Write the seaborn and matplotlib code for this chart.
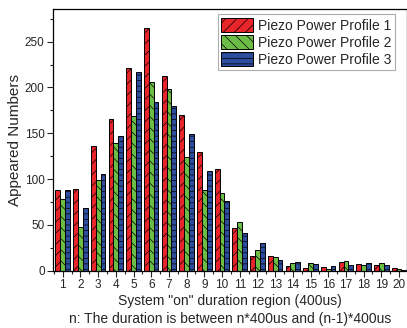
import numpy as np
import pandas as pd
import matplotlib
matplotlib.use("Agg")
import matplotlib.pyplot as plt
from matplotlib.ticker import MultipleLocator, FixedLocator
import seaborn as sns

categories = [str(i) for i in range(1, 21)]
profile1 = [88, 89, 136, 166, 221, 265, 213, 170, 130, 111, 47, 16, 16, 5, 3, 4, 9, 7, 6, 3]
profile2 = [78, 48, 99, 139, 169, 206, 198, 124, 88, 85, 53, 23, 15, 8, 8, 2, 11, 6, 8, 2]
profile3 = [88, 68, 106, 147, 217, 184, 180, 149, 109, 76, 41, 30, 12, 10, 7, 5, 6, 8, 6, 1]
series_names = ["Piezo Power Profile 1", "Piezo Power Profile 2", "Piezo Power Profile 3"]
colors = ["#E8252B", "#6CBD45", "#2D4D9E"]
hatches = ["///", "\\\\\\", "---"]

df = pd.DataFrame({
    "region": categories * 3,
    "value": profile1 + profile2 + profile3,
    "series": [series_names[0]] * 20 + [series_names[1]] * 20 + [series_names[2]] * 20,
})

sns.set_theme(style="ticks")
plt.rcParams['font.family'] = ['Liberation Sans', 'DejaVu Sans']
plt.rcParams['hatch.linewidth'] = 0.5

fig = plt.figure(figsize=(4.07, 3.28), dpi=100)
ax = fig.add_axes([53/407, 1 - 270.7/328, 354/407, (270.7 - 8.7)/328])

sns.barplot(data=df, x="region", y="value", hue="series", hue_order=series_names,
            order=categories, palette=colors, width=0.82, ax=ax,
            edgecolor="black", linewidth=0.7, saturation=1, legend=True)

for container, h in zip(ax.containers, hatches):
    for p in container:
        p.set_hatch(h)

ax.set_xlim(-0.55, 19.45)
ax.set_ylim(0, 286)
ax.yaxis.set_major_locator(MultipleLocator(50))
ax.yaxis.set_minor_locator(MultipleLocator(25))
ax.xaxis.set_minor_locator(FixedLocator(np.arange(-0.5, 20, 1)))
ax.tick_params(axis="both", which="major", direction="out", length=4, width=0.8, labelsize=8.5, pad=2)
ax.tick_params(axis="both", which="minor", direction="out", length=2, width=0.8)
for s in ax.spines.values():
    s.set_linewidth(0.9)
    s.set_color("black")

ax.set_ylabel("Appeared Numbers", fontsize=11, labelpad=2)
ax.set_xlabel('System "on" duration region (400us)\nn: The duration is between n*400us and (n-1)*400us',
              fontsize=10, linespacing=1.35, labelpad=2)

leg = ax.legend(loc="upper right", bbox_to_anchor=(0.966, 0.978), fontsize=10, frameon=True,
                fancybox=False, edgecolor="#999999", handlelength=2.3, handleheight=1.2,
                handletextpad=0.35, borderpad=0.25, labelspacing=0.15, borderaxespad=0)
leg.get_frame().set_linewidth(0.8)
for hnd, h, c in zip(leg.legend_handles, hatches, colors):
    hnd.set_hatch(h)
    hnd.set_facecolor(c)
    hnd.set_edgecolor("black")

fig.savefig("out.png", dpi=100)
